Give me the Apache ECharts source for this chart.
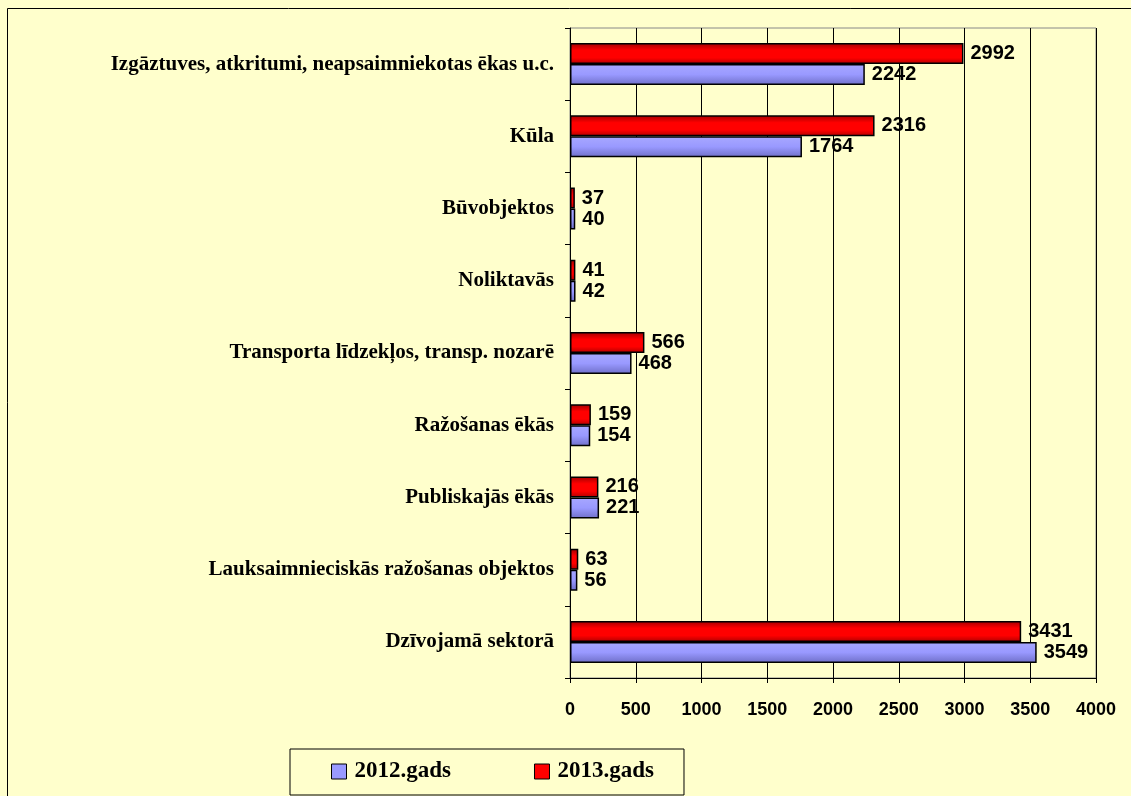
<!DOCTYPE html>
<html>
<head>
<meta charset="utf-8">
<script src="https://cdn.jsdelivr.net/npm/echarts@6/dist/echarts.min.js"></script>
<style>
  html, body { margin: 0; padding: 0; background: #ffffff; }
  #main { width: 1131px; height: 796px; }
</style>
</head>
<body>
<div id="main"></div>
<script>
// kategorijas (no apakšas uz augšu)
var categories = [
  'Dzīvojamā sektorā',
  'Lauksaimnieciskās ražošanas objektos',
  'Publiskajās ēkās',
  'Ražošanas ēkās',
  'Transporta līdzekļos, transp. nozarē',
  'Noliktavās',
  'Būvobjektos',
  'Kūla',
  'Izgāztuves, atkritumi, neapsaimniekotas ēkas u.c.'
];
var values2012 = [3549, 56, 221, 154, 468, 42, 40, 1764, 2242];
var values2013 = [3431, 63, 216, 159, 566, 41, 37, 2316, 2992];
var xTicks = [0, 500, 1000, 1500, 2000, 2500, 3000, 3500, 4000];

var chart = echarts.init(document.getElementById('main'));

var blueFill = new echarts.graphic.LinearGradient(0, 0, 0, 1, [
  { offset: 0, color: '#a8a8ff' },
  { offset: 0.5, color: '#9999ff' },
  { offset: 1, color: '#6f6fc8' }
]);
var redFill = new echarts.graphic.LinearGradient(0, 0, 0, 1, [
  { offset: 0, color: '#a00000' },
  { offset: 0.35, color: '#ff0000' },
  { offset: 0.7, color: '#ff0000' },
  { offset: 1, color: '#b00000' }
]);

var valueLabel = {
  show: true,
  position: 'right',
  distance: 7,
  color: '#000',
  fontFamily: 'Liberation Sans, Arial, sans-serif',
  fontWeight: 'bold',
  fontSize: 20
};

var option = {
  backgroundColor: '#ffffcc',
  animation: false,
  graphic: [{
    type: 'rect',
    shape: { x: 7.5, y: 8.5, width: 1200, height: 900 },
    style: { fill: 'none', stroke: '#000', lineWidth: 1 },
    silent: true,
    z: -1
  }],
  grid: {
    left: 570,
    right: 35,
    top: 28,
    bottom: 118,
    show: true,
    backgroundColor: 'transparent',
    borderColor: '#888',
    borderWidth: 1
  },
  legend: {
    left: 290,
    top: 749,
    width: 396,
    itemGap: 83,
    padding: [11, 30, 12, 41],
    itemWidth: 15,
    itemHeight: 15,
    icon: 'rect',
    borderColor: '#000',
    borderWidth: 1,
    textStyle: {
      fontFamily: 'Liberation Serif, Times New Roman, serif',
      fontWeight: 'bold',
      fontSize: 23,
      color: '#000',
      padding: [0, 0, 0, 3]
    },
    data: [
      { name: '2012.gads', itemStyle: { color: '#9999ff', borderColor: '#000', borderWidth: 1 } },
      { name: '2013.gads', itemStyle: { color: '#ff0000', borderColor: '#000', borderWidth: 1 } }
    ]
  },
  xAxis: {
    type: 'value',
    min: 0,
    max: 4000,
    interval: 500,
    axisLine: { show: true, lineStyle: { color: '#000', width: 1 } },
    axisTick: { show: true, length: 5, lineStyle: { color: '#000' } },
    splitLine: { show: true, lineStyle: { color: '#000', width: 1 } },
    axisLabel: {
      margin: 23,
      color: '#000',
      fontFamily: 'Liberation Sans, Arial, sans-serif',
      fontWeight: 'bold',
      fontSize: 18,
      formatter: function (v) { return xTicks.indexOf(v) >= 0 ? String(v) : ''; }
    }
  },
  yAxis: {
    type: 'category',
    data: categories,
    axisLine: { show: true, lineStyle: { color: '#000', width: 1 } },
    axisTick: { show: true, length: 5, lineStyle: { color: '#000' } },
    splitLine: { show: false },
    axisLabel: {
      margin: 16,
      color: '#000',
      fontFamily: 'Liberation Serif, Times New Roman, serif',
      fontWeight: 'bold',
      fontSize: 21
    }
  },
  series: [
    {
      name: '2013.gads',
      type: 'bar',
      data: values2013,
      barWidth: 21,
      barGap: '0%',
      itemStyle: { color: redFill, borderColor: '#000', borderWidth: 1.5 },
      label: valueLabel
    },
    {
      name: '2012.gads',
      type: 'bar',
      data: values2012,
      barWidth: 21,
      barGap: '0%',
      itemStyle: { color: blueFill, borderColor: '#000', borderWidth: 1.5 },
      label: valueLabel
    }
  ]
};

chart.setOption(option);
</script>
</body>
</html>
